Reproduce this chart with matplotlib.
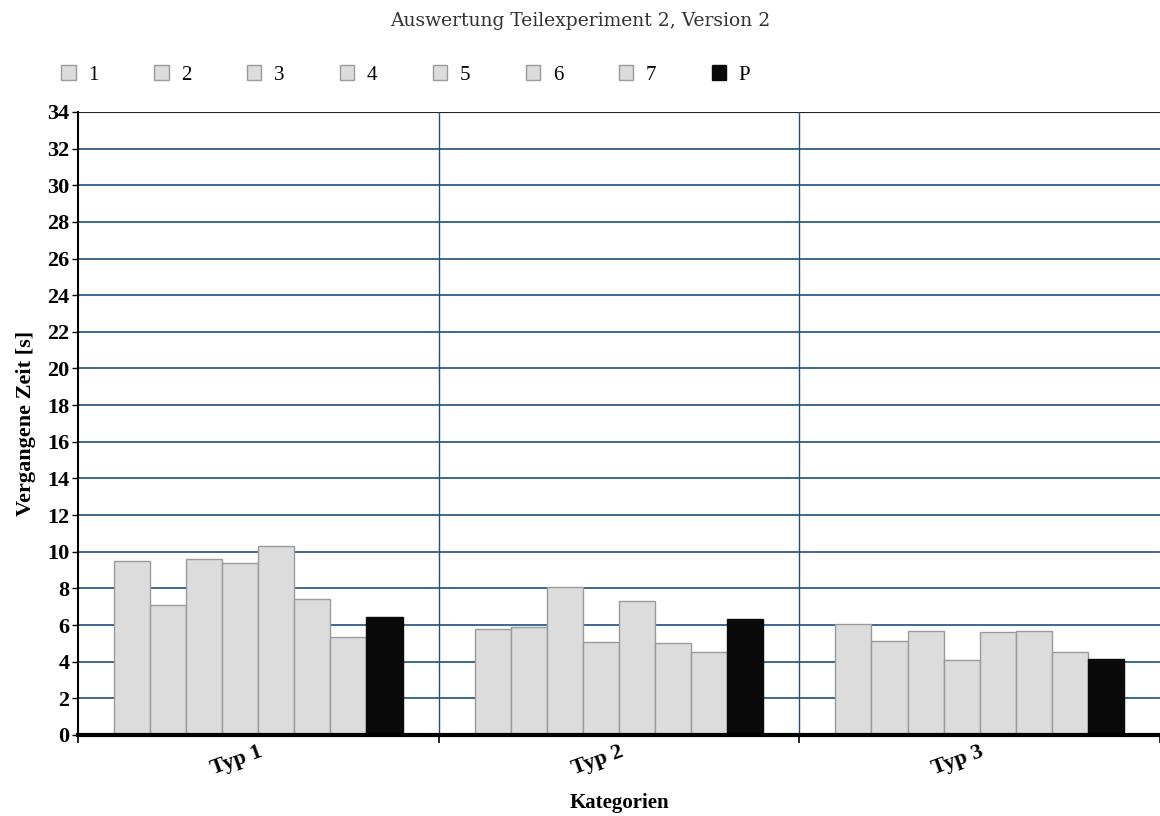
import numpy as np
import matplotlib as mpl
import matplotlib.pyplot as plt

mpl.rcParams['font.family'] = 'Liberation Serif'

# Data: elapsed time per category and participant
categories = ["Typ 1", "Typ 2", "Typ 3"]
series_names = ["1", "2", "3", "4", "5", "6", "7", "P"]
times = {
  "1": [9.5, 5.8, 6.05],
  "2": [7.1, 5.9, 5.15],
  "3": [9.6, 8.05, 5.65],
  "4": [9.4, 5.05, 4.1],
  "5": [10.3, 7.3, 5.6],
  "6": [7.4, 5.0, 5.65],
  "7": [5.35, 4.55, 4.55],
  "P": [6.45, 6.35, 4.15],
}
y_ticks = list(range(0, 35, 2))

grid_color = "#1f4f7a"
bar_width = 0.1

fig = plt.figure(figsize=(11.6, 8.16), dpi=100)
ax = fig.add_axes([0.0672, 0.0993, 0.9328, 0.7635])

x = np.arange(len(categories)) + 0.5
handles = []
for i, name in enumerate(series_names):
  offset = (i - (len(series_names) - 1) / 2) * bar_width
  if name == "P":
    face, edge = "#0a0a0a", "#0a0a0a"
  else:
    face, edge = "#dcdcdc", "#9a9a9a"
  b = ax.bar(x + offset, times[name], bar_width, color=face,
             edgecolor=edge, linewidth=1.0, zorder=3, label=name)
  handles.append(b)

# Axes and grid
ax.set_xlim(0, len(categories))
ax.set_ylim(0, 34)
ax.set_yticks(y_ticks)
ax.set_yticklabels([str(v) for v in y_ticks], fontsize=16, fontweight="bold")
for v in y_ticks[1:-1]:
  ax.axhline(v, color=grid_color, linewidth=1.2, zorder=1)
ax.axhline(34, color="#222222", linewidth=1.5, zorder=1)
for k in range(1, len(categories)):
  ax.axvline(k, color=grid_color, linewidth=1.0, zorder=1)

ax.set_xticks(np.arange(len(categories) + 1))
ax.set_xticklabels([])
ax.set_xticks(x, minor=True)
ax.set_xticklabels(categories, minor=True, rotation=20, fontsize=16,
                   fontweight="bold", ha="right", rotation_mode="anchor")
ax.tick_params(axis="x", which="minor", length=0, pad=5)
ax.tick_params(axis="x", which="major", length=6, width=1.2, color="black")
ax.tick_params(axis="y", length=4, width=1.0, pad=2)

for side in ["top", "right"]:
  ax.spines[side].set_visible(False)
ax.spines["left"].set_linewidth(1.5)
ax.spines["bottom"].set_linewidth(3)
ax.spines["bottom"].set_zorder(4)

ax.set_ylabel("Vergangene Zeit [s]", fontsize=16, fontweight="bold", labelpad=8)
ax.set_xlabel("Kategorien", fontsize=15, fontweight="bold", labelpad=10)

fig.text(0.5, 0.974, "Auswertung Teilexperiment 2, Version 2", ha="center",
         va="center", fontsize=13.5, color="#333333", family="DejaVu Serif")

leg = fig.legend(handles=handles, loc="center left", bbox_to_anchor=(0.0365, 0.908),
                 ncol=8, frameon=False, handlelength=0.7,
                 handleheight=0.7, handletextpad=0.6, columnspacing=2.66,
                 prop={"size": 15})

fig.savefig("out.png", dpi=100)
